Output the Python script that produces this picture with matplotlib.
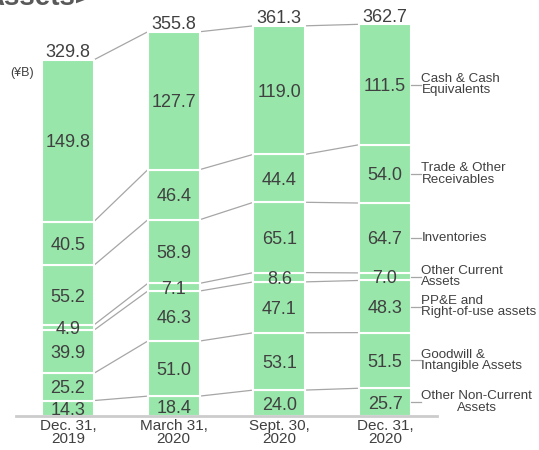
import numpy as np
import matplotlib.pyplot as plt

plt.rcParams['font.family'] = ['Liberation Sans', 'DejaVu Sans']

# Data (¥B), stacked bottom -> top
periods = ['Dec. 31,\n2019', 'March 31,\n2020', 'Sept. 30,\n2020', 'Dec. 31,\n2020']
categories = ['Other Non-Current\nAssets', 'Goodwill &\nIntangible Assets',
              'PP&E and\nRight-of-use assets', 'Other Current\nAssets',
              'Inventories', 'Trade & Other\nReceivables', 'Cash & Cash\nEquivalents']
other_noncurrent = [14.3, 18.4, 24.0, 25.7]
goodwill = [25.2, 51.0, 53.1, 51.5]
ppe = [39.9, 46.3, 47.1, 48.3]
other_current = [4.9, 7.1, 8.6, 7.0]
inventories = [55.2, 58.9, 65.1, 64.7]
receivables = [40.5, 46.4, 44.4, 54.0]
cash = [149.8, 127.7, 119.0, 111.5]
totals = [329.8, 355.8, 361.3, 362.7]

series = [other_noncurrent, goodwill, ppe, other_current, inventories, receivables, cash]

green = '#98e6aa'
txt = '#404040'
conn = '#a6a6a6'

W, H = 539, 450
fig = plt.figure(figsize=(W / 100, H / 100), dpi=100)
# axes in pixels: x 16..437, y 8..416 (from top)
ax = fig.add_axes([16 / W, (H - 416) / H, 421 / W, 408 / H])

x = np.arange(len(periods))
bw = 0.49
bottoms = np.zeros(len(periods))
for vals in series:
    vals = np.array(vals)
    ax.bar(x, vals, bw, bottom=bottoms, color=green, edgecolor='white', linewidth=1.5, zorder=2)
    for xi, b, v in zip(x, bottoms, vals):
        ax.text(xi, b + v / 2, f'{v:.1f}', ha='center', va='center_baseline', fontsize=13,
                color=txt, zorder=4)
    bottoms = bottoms + vals

# connector lines between bar boundaries
cum = np.cumsum(np.array(series), axis=0)
for level in cum:
    for i in range(len(periods) - 1):
        ax.plot([x[i] + bw / 2, x[i + 1] - bw / 2], [level[i], level[i + 1]],
                color=conn, lw=0.9, zorder=1)

# totals
for xi, t in zip(x, totals):
    ax.annotate(f'{t:.1f}', (xi, t), xytext=(0, 2), textcoords='offset points',
                ha='center', va='baseline', fontsize=13, color=txt)

# right-side category labels with leaders
last = len(periods) - 1
starts = cum[:, last] - np.array(series)[:, last]
for name, s, v in zip(categories, starts, np.array(series)[:, last]):
    yc = s + v / 2
    ax.plot([x[last] + bw / 2, x[last] + 0.34], [yc, yc], color=conn, lw=0.9, clip_on=False)
    ax.text(x[last] + 0.345, yc, name, ha='left', va='center', fontsize=9.6,
            color=txt, linespacing=0.95,
            multialignment='center' if name.startswith('Other Non') else 'left')

ax.set_xlim(-0.492, 3.492)
ax.set_ylim(0, 377.8)
ax.set_xticks(x)
ax.set_xticklabels(periods, fontsize=11, color=txt, linespacing=0.95)
ax.tick_params(axis='x', length=0, pad=2)
ax.set_yticks([])
for side in ['top', 'right', 'left']:
    ax.spines[side].set_visible(False)
ax.spines['bottom'].set_color('#cccccc')
ax.spines['bottom'].set_linewidth(2)
ax.spines['bottom'].set_zorder(5)

fig.text(10 / W, 1 - 73 / H, '(¥B)', fontsize=9, color=txt, va='center', ha='left')
fig.text(91 / W, 1 - 5 / H, 'Assets>', fontsize=20, fontweight='bold', color='#595959',
         ha='right', va='baseline')

fig.savefig('out.png', dpi=100)
